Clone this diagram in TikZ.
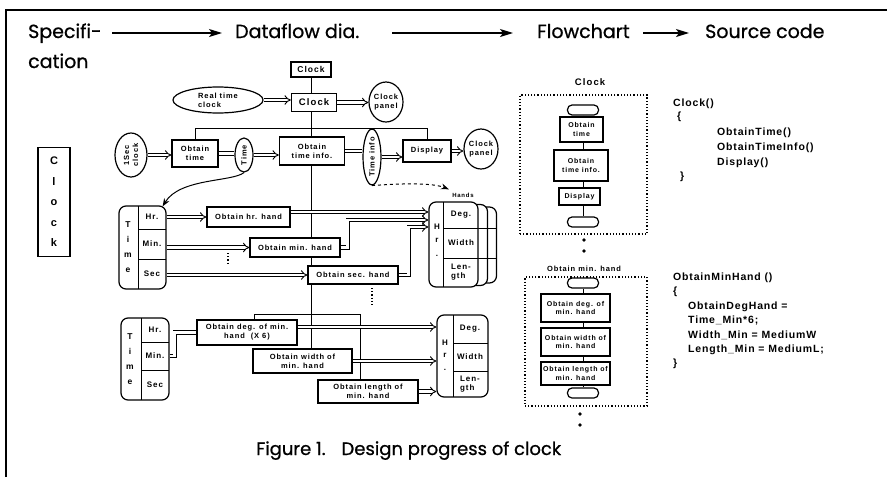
\documentclass[tikz,border=0pt]{standalone}
\usepackage{fontspec}
\setmainfont{Poppins}[FakeBold=0.8]
\newfontfamily\dfont{Liberation Sans}[LetterSpace=12]
\newfontfamily\cfont{Liberation Sans}[LetterSpace=8]
\usetikzlibrary{arrows.meta,shapes.geometric}

\tikzset{
  hdr/.style={font=\fontsize{19}{22}\selectfont, inner sep=0pt, anchor=base west},
  harrow/.style={line width=1.4pt, -{Stealth[length=13pt,width=8pt,inset=3pt]}},
  small/.style={font=\dfont\bfseries\fontsize{7.5}{9}\selectfont},
  tiny/.style={font=\dfont\bfseries\fontsize{7}{8.5}\selectfont},
  pbox/.style={draw, line width=1.2pt, fill=white, inner sep=0pt, align=center, small},
  oval/.style={draw, ellipse, line width=1.2pt, fill=white, inner sep=0pt, align=center, small},
  tbl/.style={draw, line width=1.2pt, rounded corners=7pt, fill=white, inner sep=0pt},
  oarr/.style={double, double distance=2.4pt, line width=0.9pt, -{Implies}},
  dl/.style={double, double distance=2.4pt, line width=0.9pt},
  conn/.style={line width=1pt},
  code/.style={font=\cfont\bfseries\fontsize{10.5}{12}\selectfont, anchor=base west, inner sep=0pt},
  fbox/.style={draw, line width=1.2pt, fill=white, inner sep=0pt, align=center, tiny},
  term/.style={draw, line width=1.2pt, rounded corners=4.5pt, minimum width=31pt, minimum height=10pt, inner sep=0pt, fill=white},
  frame/.style={draw, dotted, line width=1.2pt, inner sep=0pt},
  letters/.style={inner sep=0pt, align=center, font=\dfont\bfseries\fontsize{8.5}{15}\selectfont},
  cell/.style={font=\dfont\bfseries\fontsize{8}{9.5}\selectfont},
}

\begin{document}
\begin{tikzpicture}[x=1pt,y=-1pt]
\useasboundingbox (0,0) rectangle (887,477);
\fill[white] (0,0) rectangle (887,477);

% page rules
\draw[line width=1.5pt] (6,477) -- (6,10) -- (887,10);

% ---------- headings ----------
\node[hdr] (spec) at (28,38) {Specifi-};
\node[hdr] (cat)  at (28,68) {cation};
\node[hdr] (dfd)  at (235,38) {Dataflow dia.};
\node[hdr] (fch)  at (537,38) {Flowchart};
\node[hdr] (src)  at (705,38) {Source code};
\coordinate (a1s) at (112,33);  \coordinate (a1e) at (222,33);
\coordinate (a2s) at (392,33);  \coordinate (a2e) at (513,33);
\coordinate (a3s) at (643,33);  \coordinate (a3e) at (689,33);
\draw[harrow] (a1s) -- (a1e);
\draw[harrow] (a2s) -- (a2e);
\draw[harrow] (a3s) -- (a3e);

% ---------- specification ----------
\node[draw, line width=1.2pt, minimum width=32pt, inner ysep=10pt, align=center,
      font=\dfont\bfseries\fontsize{11}{20.5}\selectfont] (vclk) at (54,202) {C\\l\\o\\c\\k};

% ---------- dataflow diagram: top level ----------
\coordinate (barY) at (0,128);
\coordinate (rA) at (0,228);
\coordinate (rB) at (0,258);
\node[pbox, minimum width=40pt, minimum height=15pt, font=\dfont\bfseries\fontsize{8.5}{9}\selectfont] (topclk) at (311,69.5) {Clock};
\node[pbox, minimum width=99pt, minimum height=24pt] (ow) at (302.5,361) {Obtain width of\\min. hand};

% trunk of the structure and the branch bar
\draw[conn] (topclk.south) -- (topclk.south |- ow.north);
\node[pbox, minimum width=65pt, minimum height=28pt] (oti) at (312,151) {Obtain\\time info.};
\node[pbox, minimum width=46pt, minimum height=27pt] (ot) at (195,153.5) {Obtain\\time};
\node[pbox, minimum width=48pt, minimum height=22pt] (disp) at (427,151) {Display};
\draw[conn] (ot.north) |- (disp.north |- barY) -- (disp.north);

\node[oval, minimum width=90pt, minimum height=26pt, align=left] (rtc) at (218,100) {Real time\\clock};
\node[pbox, minimum width=45pt, minimum height=18pt, font=\dfont\bfseries\fontsize{9.5}{10}\selectfont] (clk) at (314,102.5) {Clock};
\node[oval, minimum width=34pt, minimum height=40pt] (panel) at (386,102) {Clock\\panel};
\draw[oarr] (rtc.east) -- (rtc.east -| clk.west);
\draw[oarr] (clk.east) -- (clk.east -| panel.west);

\node[oval, rotate=90, minimum width=44pt, minimum height=32pt] (sec) at (131,155) {1Sec\\clock};
\node[oval, rotate=90, minimum width=34pt, minimum height=18pt] (time) at (244,155) {Time};
\node[oval, rotate=90, minimum width=44pt, minimum height=18pt] (tinfo) at (372,157) {Time info};
\node[oval, minimum width=34pt, minimum height=40pt] (panel2) at (481,149) {Clock\\panel};

\draw[oarr] (sec.south) -- (sec.south -| ot.west);
\draw[dl] (ot.east) -- (ot.east -| time.north);
\draw[oarr] (time.south) -- (time.south -| oti.west);
\draw[dl] (oti.east) -- (oti.east -| tinfo.north);
\draw[oarr] (tinfo.south) -- (tinfo.south -| disp.west);
\draw[oarr] (disp.east) -- (disp.east -| panel2.west);

% ---------- second level: hands ----------
\node[tbl, minimum width=47pt, minimum height=83pt] (t1) at (142.5,247.5) {};
\draw[conn] (138,206) -- (138,289) (138,229) -- (166,229) (138,259) -- (166,259);
\node[letters] (t1l) at (128,247) {T\\i\\m\\e};
\node[cell] (t1hr) at (152,217) {Hr.};
\node[cell] (t1mn) at (152,244) {Min.};
\node[cell] (t1sc) at (152,274) {Sec};

\draw[line width=1pt, -{Stealth[length=8pt,width=6pt]}] (time.west) .. controls (232,182) and (180,178) .. ([xshift=-4pt,yshift=-1pt]t1.north east);

\node[pbox, minimum width=83pt, minimum height=20pt] (ohr) at (248.5,217) {Obtain hr. hand};
\node[pbox, minimum width=90pt, minimum height=19pt] (omin) at (295,247.5) {Obtain min. hand};
\node[pbox, minimum width=90pt, minimum height=18pt] (osec) at (353,275) {Obtain sec. hand};

\draw[oarr] (t1.east |- ohr.west) -- (ohr.west);
\draw[oarr] (t1.east |- omin.west) -- (omin.west);
\draw[oarr] (t1.east |- osec.west) -- (osec.west);
\draw[dotted, line width=1.2pt] (228,253) -- (228,265);
\draw[dotted, line width=1.2pt] (372,288) -- (372,307);

% stacked hands records
\node[tbl, minimum width=49pt, minimum height=76pt] (hb2) at (472,245) {};
\draw[conn] (hb2.west |- rA) -- (hb2.east |- rA) (hb2.west |- rB) -- (hb2.east |- rB);
\node[tbl, minimum width=49pt, minimum height=81pt] (hb1) at (463,245) {};
\draw[conn] (hb1.west |- rA) -- (hb1.east |- rA) (hb1.west |- rB) -- (hb1.east |- rB);
\node[tbl, minimum width=49pt, minimum height=85pt] (hands) at (453.5,244.5) {};
\draw[conn] (443,202) -- (443,287) (443,228) -- (478,228) (443,258) -- (478,258);
\node[letters, font=\dfont\bfseries\fontsize{8}{13.5}\selectfont] (hl) at (437,240) {H\\r\\.};
\node[cell] (hdeg) at (461,215) {Deg.};
\node[cell] (hwid) at (461,243) {Width};
\node[cell, align=left] (hlen) at (461,272) {Len-\\gth};
\node[small, font=\dfont\bfseries\fontsize{6}{7}\selectfont] (hlab) at (463,195) {Hands};

\draw[line width=1pt, dashed, -{Stealth[length=8pt,width=6pt]}] (tinfo.west) .. controls (395,184) and (430,182) .. (hlab.north west);

\coordinate (r1) at (0,212);
\coordinate (r2) at (0,220);
\coordinate (r3) at (0,227);
\draw[oarr] (ohr.east |- r1) -- (hands.west |- r1);
\draw[oarr] (omin.east) -- ++(7,0) |- (hands.west |- r2);
\draw[oarr] (osec.east) -- ++(10,0) |- (hands.west |- r3);

% ---------- third level: minute hand ----------
\node[tbl, minimum width=48pt, minimum height=82pt] (t2) at (145,359) {};
\draw[conn] (141,318) -- (141,400) (141,342) -- (169,342) (141,370) -- (169,370);
\node[letters] (t2l) at (130,359) {T\\i\\m\\e};
\node[cell] (t2hr) at (155,330) {Hr.};
\node[cell] (t2mn) at (155,356) {Min.};
\node[cell] (t2sc) at (155,385) {Sec};

\node[pbox, minimum width=100pt, minimum height=25pt] (odeg) at (247,332.5) {Obtain deg. of min.\\hand~~(X 6)};
\node[pbox, minimum width=100pt, minimum height=23pt] (olen) at (368,391.5) {Obtain length of\\min. hand};
\draw[conn] ([xshift=7pt]odeg.north) -- ++(0,-5) -| ([xshift=-8pt]olen.north);
\draw[dl] (t2.east |- t2mn) -- ++(5,0) |- (odeg.west);

\node[tbl, minimum width=51pt, minimum height=82pt] (t3) at (462.5,356) {};
\draw[conn] (453,315) -- (453,397) (453,343) -- (488,343) (453,371) -- (488,371);
\node[letters, font=\dfont\bfseries\fontsize{8}{12.5}\selectfont] (t3l) at (445,355) {H\\r\\.};
\node[cell] (t3deg) at (470,329) {Deg.};
\node[cell] (t3wid) at (470,357) {Width};
\node[cell, align=left] (t3len) at (470,384) {Len-\\gth};

\coordinate (r4) at (0,327);
\draw[oarr] (odeg.east |- r4) -- (t3.west |- r4);
\draw[oarr] (ow.east) -- (t3.west |- ow.east);
\draw[oarr] (olen.east) -- (t3.west |- olen.east);

% ---------- flowcharts ----------
\node[font=\dfont\bfseries\fontsize{9.5}{10}\selectfont, inner sep=0pt] (fc1lab) at (590,82) {Clock};
\node[frame, minimum width=127pt, minimum height=139pt] (fr1) at (583.5,164.5) {};
\node[term] (fc1s) at (583,110) {};
\node[fbox, minimum width=43pt, minimum height=25pt] (fc1a) at (581.5,129.5) {Obtain\\time};
\node[fbox, minimum width=54pt, minimum height=31pt] (fc1b) at (581,165.5) {Obtain\\time info.};
\node[fbox, minimum width=41pt, minimum height=17pt] (fc1c) at (579.5,196.5) {Display};
\node[term] (fc1e) at (583,222) {};
\draw[conn] (fc1s.south) -- (fc1s.south |- fc1a.north);
\draw[conn] (fc1s.south |- fc1a.south) -- (fc1s.south |- fc1b.north);
\draw[conn] (fc1s.south |- fc1b.south) -- (fc1s.south |- fc1c.north);
\draw[conn] (fc1s.south |- fc1c.south) -- (fc1e.north);
\fill (584,240) circle[radius=1.8pt] (584,251) circle[radius=1.8pt];

\node[font=\dfont\bfseries\fontsize{7.5}{8}\selectfont, inner sep=0pt] (fc2lab) at (584,269) {Obtain min. hand};
\node[frame, minimum width=122pt, minimum height=129pt] (fr2) at (586,341.5) {};
\node[term] (fc2s) at (583,283) {};
\node[fbox, minimum width=69pt, minimum height=28pt] (fc2a) at (575.5,308) {Obtain deg. of\\min. hand};
\node[fbox, minimum width=69pt, minimum height=28pt] (fc2b) at (575.5,342) {Obtain width of\\min. hand};
\node[fbox, minimum width=69pt, minimum height=23pt] (fc2c) at (575.5,373.5) {Obtain length of\\min. hand};
\node[term] (fc2e) at (583,393) {};
\draw[conn] (fc2s.south) -- (fc2s.south |- fc2a.north);
\draw[conn] (fc2s.south |- fc2a.south) -- (fc2s.south |- fc2b.north);
\draw[conn] (fc2s.south |- fc2b.south) -- (fc2s.south |- fc2c.north);
\draw[conn] (fc2s.south |- fc2c.south) -- (fc2e.north);
\fill (580,414) circle[radius=1.8pt] (580,425) circle[radius=1.8pt];

% ---------- source code ----------
\node[code] (c1) at (673,106) {Clock()};
\node[code] (c2) at (677,119) {\{};
\node[code] (c3) at (717,135) {ObtainTime()};
\node[code] (c4) at (717,150) {ObtainTimeInfo()};
\node[code] (c5) at (717,165) {Display()};
\node[code] (c6) at (680,179) {\}};

\node[code] (d1) at (673,280) {ObtainMinHand ()};
\node[code] (d2) at (673,294) {\{};
\node[code] (d3) at (688,309) {ObtainDegHand =};
\node[code] (d4) at (688,323) {Time\_Min*6;};
\node[code] (d5) at (688,338) {Width\_Min = MediumW};
\node[code] (d6) at (688,352) {Length\_Min = MediumL;};
\node[code] (d7) at (673,366) {\}};

% ---------- caption ----------
\node[font=\fontsize{18}{20}\selectfont, anchor=base west, inner sep=0pt] (cap) at (256,455) {Figure 1.\hspace{16pt}Design progress of clock};
\end{tikzpicture}
\end{document}
